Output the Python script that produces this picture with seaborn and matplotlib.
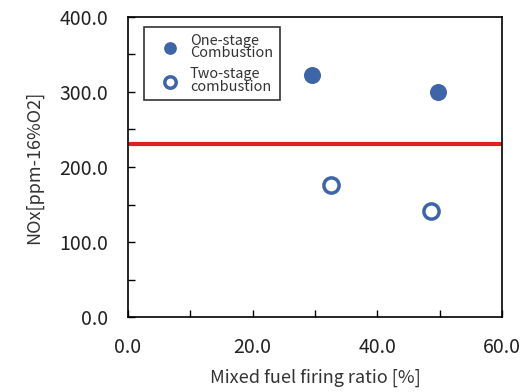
import matplotlib
matplotlib.use("Agg")
import matplotlib.pyplot as plt
import seaborn as sns
import pandas as pd
from matplotlib.ticker import MultipleLocator

one_x = [29.5, 49.7]
one_y = [323.0, 300.0]
two_x = [32.6, 48.6]
two_y = [176.0, 142.0]
limit_y = 231.0

blue = "#3d65a8"

sns.set_theme(style="white")
plt.rcParams['font.family'] = ['Noto Sans CJK JP', 'DejaVu Sans']

fig = plt.figure(figsize=(5.24, 3.92), dpi=100)
ax = fig.add_axes([0.244, 0.191, 0.714, 0.766])

df_one = pd.DataFrame({'x': one_x, 'y': one_y})
df_two = pd.DataFrame({'x': two_x, 'y': two_y})

sns.scatterplot(data=df_one, x='x', y='y', ax=ax, s=150, color=blue,
                edgecolor=blue, linewidth=0, label='One-stage\nCombustion', zorder=3)
sns.scatterplot(data=df_two, x='x', y='y', ax=ax, s=120, facecolor='white',
                edgecolor=blue, linewidth=2.5, label='Two-stage\ncombustion', zorder=3)
ax.axhline(limit_y, color='#e02020', linewidth=3, zorder=2)

ax.set_xlim(0, 60)
ax.set_ylim(0, 400)
ax.xaxis.set_major_locator(MultipleLocator(20))
ax.xaxis.set_minor_locator(MultipleLocator(10))
ax.yaxis.set_major_locator(MultipleLocator(100))
ax.yaxis.set_minor_locator(MultipleLocator(50))
ax.xaxis.set_major_formatter(lambda v, p: f"{v:.1f}")
ax.yaxis.set_major_formatter(lambda v, p: f"{v:.1f}")
ax.tick_params(which='both', direction='in', length=5, width=1, color='black',
               labelsize=14, labelcolor='#222222', bottom=True, left=True)
ax.tick_params(axis='x', pad=14)
ax.tick_params(axis='y', pad=14)
for s in ax.spines.values():
    s.set_color('black')
    s.set_linewidth(1.2)

ax.set_xlabel('Mixed fuel firing ratio [%]', fontsize=13, color='#333333', labelpad=8)
ax.set_ylabel('NOx[ppm-16%O2]', fontsize=13, color='#333333', labelpad=12)

leg = ax.legend(loc='upper left', bbox_to_anchor=(0.025, 0.99), fontsize=10.4,
                frameon=True, fancybox=False, edgecolor='black', handletextpad=0.1,
                labelspacing=0.5, borderpad=0.45, handlelength=2.6,
                markerscale=0.75)
leg.get_frame().set_linewidth(1.2)
for t in leg.get_texts():
    t.set_linespacing(0.85)
    t.set_color('#333333')

fig.savefig('out.png', dpi=100)
